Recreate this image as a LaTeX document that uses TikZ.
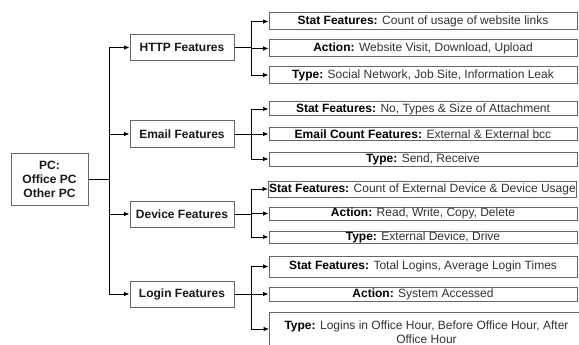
\documentclass[tikz,border=0pt]{standalone}
\usepackage{fontspec}
\setmainfont{Liberation Sans}
\usetikzlibrary{arrows.meta}
\definecolor{bord}{HTML}{666666}
\definecolor{txt}{HTML}{333333}
\newcommand{\leaftxt}[2]{{\bfseries\color{black}#1} #2}
\begin{document}
\begin{tikzpicture}[x=1pt,y=-1pt,
  box/.style={draw=bord, line width=1pt, fill=white, inner sep=0pt, align=center,
    font=\fontsize{12}{14}\selectfont, text=txt},
  mainbox/.style={box, minimum width=104pt, minimum height=26pt,
    font=\fontsize{12}{14}\selectfont\bfseries, text=black!90},
  leaf/.style={box, minimum width=308pt},
  conn/.style={draw=black, line width=0.8pt},
  arr/.style={conn, -{Latex[length=5.5pt,width=4.5pt]}}]
\useasboundingbox (0,0) rectangle (579,345);

% root
\node[mainbox, minimum width=77pt, minimum height=52pt] (pc) at (49.5,179) {PC:\\Office PC\\Other PC};

% main feature boxes
\node[mainbox] (http)   at (182,47.5) {HTTP Features};
\node[mainbox] (email)  at (182,134)  {Email Features};
\node[mainbox] (device) at (182,214)  {Device Features};
\node[mainbox] (login)  at (182,294)  {Login Features};

% HTTP leaves
\node[leaf, minimum height=17pt] (h1) at (423,21.5) {\leaftxt{Stat Features:}{Count of usage of website links}};
\node[leaf, minimum height=17pt] (h2) at (423,48.5) {\leaftxt{Action:}{Website Visit, Download, Upload}};
\node[leaf, minimum height=17pt] (h3) at (423,75)   {\leaftxt{Type:}{Social Network, Job Site, Information Leak}};

% Email leaves
\node[leaf, minimum height=14pt] (e1) at (423,109) {\leaftxt{Stat Features:}{No, Types \& Size of Attachment}};
\node[leaf, minimum height=13pt] (e2) at (423,134) {\leaftxt{Email Count Features:}{External \& External bcc}};
\node[leaf, minimum height=14pt] (e3) at (423,159) {\leaftxt{Type:}{Send, Receive}};

% Device leaves
\node[leaf, minimum height=16pt] (d1) at (422.5,189) {\leaftxt{Stat Features:}{Count of External Device \& Device Usage}};
\node[leaf, minimum height=13pt] (d2) at (423,213.5) {\leaftxt{Action:}{Read, Write, Copy, Delete}};
\node[leaf, minimum height=12pt] (d3) at (423,237)   {\leaftxt{Type:}{External Device, Drive}};

% Login leaves
\node[leaf, minimum height=21pt] (l1) at (423,266.5) {\leaftxt{Stat Features:}{Total Logins, Average Login Times}};
\node[leaf, minimum height=14pt] (l2) at (423,294)   {\leaftxt{Action:}{System Accessed}};
\node[leaf, minimum width=314pt, minimum height=40pt, anchor=north west] (l3) at (269,312)
  {\leaftxt{Type:}{Logins in Office Hour, Before Office Hour, After}\\Office Hour};
\coordinate (l3in) at ([yshift=-17pt]l3.north west);

% trunk from root
\coordinate (trunk) at (109,179);
\draw[conn] (pc.east) -- (trunk);
\draw[arr] (trunk) |- (http.west);
\draw[arr] (trunk) |- (email.west);
\draw[arr] (trunk) |- (device.west);
\draw[arr] (trunk) |- (login.west);

% HTTP branch
\coordinate (hb) at (251,47.5);
\draw[conn] (http.east) -- (hb);
\draw[arr] (hb) |- (h1.west);
\draw[arr] (hb) |- (h2.west);
\draw[arr] (hb) |- (h3.west);

% Email branch
\coordinate (eb) at (251,134);
\draw[conn] (email.east) -- (eb);
\draw[arr] (eb) |- (e1.west);
\draw[arr] (eb) |- (e2.west);
\draw[arr] (eb) |- (e3.west);

% Device branch
\coordinate (db) at (251,214);
\draw[conn] (device.east) -- (db);
\draw[arr] (db) |- (d1.west);
\draw[arr] (db) |- (d2.west);
\draw[arr] (db) |- (d3.west);

% Login branch
\coordinate (lb) at (251,294);
\draw[conn] (login.east) -- (lb);
\draw[arr] (lb) |- (l1.west);
\draw[arr] (lb) |- (l2.west);
\draw[arr] (lb) |- (l3in);
\end{tikzpicture}
\end{document}
